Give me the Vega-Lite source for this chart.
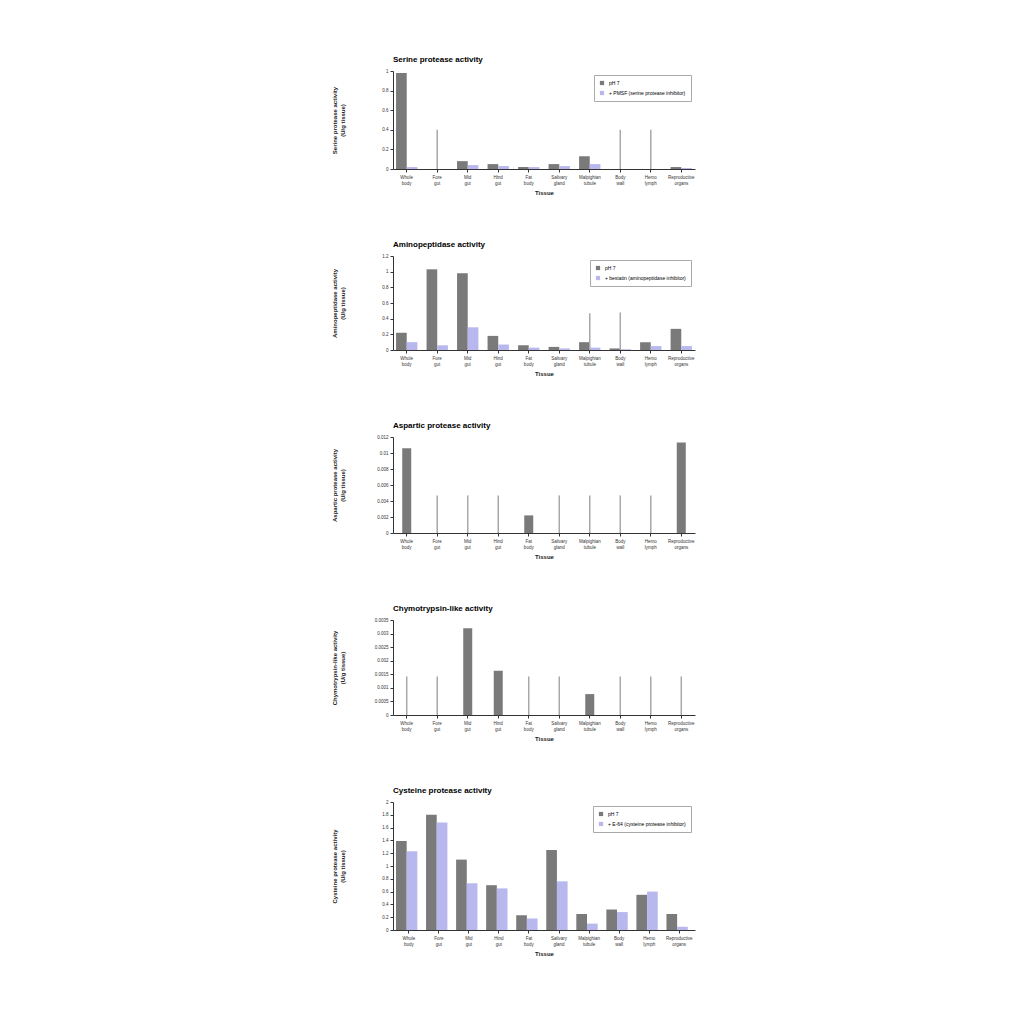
{
 "$schema": "https://vega.github.io/schema/vega-lite/v6.json",
 "background": "white",
 "padding": {"left": 331, "top": 56, "right": 5, "bottom": 5},
 "config": {
  "font": "Liberation Sans",
  "view": {"stroke": null},
  "axis": {"labelFontSize": 5, "titleFontSize": 6, "titleFontWeight": "bold", "domainColor": "#333", "tickColor": "#333", "grid": false, "labelColor": "#333", "titleColor": "#222", "tickSize": 3, "labelOverlap": false},
  "axisY": {"minExtent": 30, "maxExtent": 30, "titlePadding": 18, "labelFontSize": 4.5, "labelOverlap": false},
  "title": {"fontSize": 8, "anchor": "start", "frame": "group", "fontWeight": "bold", "offset": 4},
  "legend": {"orient": "top-right", "title": null, "labelFontSize": 5, "symbolType": "square", "symbolSize": 18, "strokeColor": "#aaa", "padding": 5, "offset": 4, "labelLimit": 200, "rowPadding": 4}
 },
 "resolve": {"scale": {"color": "independent"}, "legend": {"color": "independent"}},
 "spacing": 46,
 "datasets": {
  "serine": [
   {"tissue": "Whole body", "series": "Control", "value": 0.98},
   {"tissue": "Whole body", "series": "Inhibitor", "value": 0.02},
   {"tissue": "Fore gut", "series": "Control", "value": 0.0},
   {"tissue": "Fore gut", "series": "Inhibitor", "value": 0.0},
   {"tissue": "Fore gut", "series": "nd", "value": 0.4},
   {"tissue": "Mid gut", "series": "Control", "value": 0.08},
   {"tissue": "Mid gut", "series": "Inhibitor", "value": 0.04},
   {"tissue": "Hind gut", "series": "Control", "value": 0.05},
   {"tissue": "Hind gut", "series": "Inhibitor", "value": 0.03},
   {"tissue": "Fat body", "series": "Control", "value": 0.02},
   {"tissue": "Fat body", "series": "Inhibitor", "value": 0.02},
   {"tissue": "Salivary gland", "series": "Control", "value": 0.05},
   {"tissue": "Salivary gland", "series": "Inhibitor", "value": 0.03},
   {"tissue": "Malpighian tubule", "series": "Control", "value": 0.13},
   {"tissue": "Malpighian tubule", "series": "Inhibitor", "value": 0.05},
   {"tissue": "Body wall", "series": "Control", "value": 0.0},
   {"tissue": "Body wall", "series": "Inhibitor", "value": 0.0},
   {"tissue": "Body wall", "series": "nd", "value": 0.4},
   {"tissue": "Hemo lymph", "series": "Control", "value": 0.0},
   {"tissue": "Hemo lymph", "series": "Inhibitor", "value": 0.0},
   {"tissue": "Hemo lymph", "series": "nd", "value": 0.4},
   {"tissue": "Reproductive organs", "series": "Control", "value": 0.02},
   {"tissue": "Reproductive organs", "series": "Inhibitor", "value": 0.01}
  ],
  "amino": [
   {"tissue": "Whole body", "series": "Control", "value": 0.22},
   {"tissue": "Whole body", "series": "Inhibitor", "value": 0.1},
   {"tissue": "Fore gut", "series": "Control", "value": 1.03},
   {"tissue": "Fore gut", "series": "Inhibitor", "value": 0.06},
   {"tissue": "Mid gut", "series": "Control", "value": 0.98},
   {"tissue": "Mid gut", "series": "Inhibitor", "value": 0.29},
   {"tissue": "Hind gut", "series": "Control", "value": 0.18},
   {"tissue": "Hind gut", "series": "Inhibitor", "value": 0.07},
   {"tissue": "Fat body", "series": "Control", "value": 0.06},
   {"tissue": "Fat body", "series": "Inhibitor", "value": 0.03},
   {"tissue": "Salivary gland", "series": "Control", "value": 0.04},
   {"tissue": "Salivary gland", "series": "Inhibitor", "value": 0.02},
   {"tissue": "Malpighian tubule", "series": "Control", "value": 0.1},
   {"tissue": "Malpighian tubule", "series": "Inhibitor", "value": 0.03},
   {"tissue": "Malpighian tubule", "series": "nd", "value": 0.47},
   {"tissue": "Body wall", "series": "Control", "value": 0.02},
   {"tissue": "Body wall", "series": "Inhibitor", "value": 0.01},
   {"tissue": "Body wall", "series": "nd", "value": 0.48},
   {"tissue": "Hemo lymph", "series": "Control", "value": 0.1},
   {"tissue": "Hemo lymph", "series": "Inhibitor", "value": 0.05},
   {"tissue": "Reproductive organs", "series": "Control", "value": 0.27},
   {"tissue": "Reproductive organs", "series": "Inhibitor", "value": 0.05}
  ],
  "aspartic": [
   {"tissue": "Whole body", "series": "Control", "value": 0.0106},
   {"tissue": "Fore gut", "series": "nd", "value": 0.0047},
   {"tissue": "Mid gut", "series": "nd", "value": 0.0047},
   {"tissue": "Hind gut", "series": "nd", "value": 0.0047},
   {"tissue": "Fat body", "series": "Control", "value": 0.0022},
   {"tissue": "Salivary gland", "series": "nd", "value": 0.0047},
   {"tissue": "Malpighian tubule", "series": "nd", "value": 0.0047},
   {"tissue": "Body wall", "series": "nd", "value": 0.0047},
   {"tissue": "Hemo lymph", "series": "nd", "value": 0.0047},
   {"tissue": "Reproductive organs", "series": "Control", "value": 0.0113}
  ],
  "chymo": [
   {"tissue": "Whole body", "series": "nd", "value": 0.00142},
   {"tissue": "Fore gut", "series": "nd", "value": 0.00142},
   {"tissue": "Mid gut", "series": "Control", "value": 0.0032},
   {"tissue": "Hind gut", "series": "Control", "value": 0.00163},
   {"tissue": "Fat body", "series": "nd", "value": 0.00142},
   {"tissue": "Salivary gland", "series": "nd", "value": 0.00142},
   {"tissue": "Malpighian tubule", "series": "Control", "value": 0.00077},
   {"tissue": "Body wall", "series": "nd", "value": 0.00142},
   {"tissue": "Hemo lymph", "series": "nd", "value": 0.00142},
   {"tissue": "Reproductive organs", "series": "nd", "value": 0.00142}
  ],
  "cysteine": [
   {"tissue": "Whole body", "series": "Control", "value": 1.39},
   {"tissue": "Whole body", "series": "Inhibitor", "value": 1.23},
   {"tissue": "Fore gut", "series": "Control", "value": 1.8},
   {"tissue": "Fore gut", "series": "Inhibitor", "value": 1.68},
   {"tissue": "Mid gut", "series": "Control", "value": 1.1},
   {"tissue": "Mid gut", "series": "Inhibitor", "value": 0.73},
   {"tissue": "Hind gut", "series": "Control", "value": 0.7},
   {"tissue": "Hind gut", "series": "Inhibitor", "value": 0.65},
   {"tissue": "Fat body", "series": "Control", "value": 0.23},
   {"tissue": "Fat body", "series": "Inhibitor", "value": 0.18},
   {"tissue": "Salivary gland", "series": "Control", "value": 1.25},
   {"tissue": "Salivary gland", "series": "Inhibitor", "value": 0.76},
   {"tissue": "Malpighian tubule", "series": "Control", "value": 0.25},
   {"tissue": "Malpighian tubule", "series": "Inhibitor", "value": 0.1},
   {"tissue": "Body wall", "series": "Control", "value": 0.32},
   {"tissue": "Body wall", "series": "Inhibitor", "value": 0.28},
   {"tissue": "Hemo lymph", "series": "Control", "value": 0.55},
   {"tissue": "Hemo lymph", "series": "Inhibitor", "value": 0.6},
   {"tissue": "Reproductive organs", "series": "Control", "value": 0.25},
   {"tissue": "Reproductive organs", "series": "Inhibitor", "value": 0.05}
  ]
 },
 "vconcat": [
  {
   "title": "Serine protease activity",
   "width": 302, "height": 98,
   "data": {"name": "serine"},
   "encoding": {
    "x": {"field": "tissue", "type": "nominal", "title": "Tissue", "scale": {"domain": ["Whole body", "Fore gut", "Mid gut", "Hind gut", "Fat body", "Salivary gland", "Malpighian tubule", "Body wall", "Hemo lymph", "Reproductive organs"], "paddingInner": 0.3, "paddingOuter": 0.1}, "axis": {"labelAngle": 0, "labelFontSize": 4.5, "labelExpr": "split(datum.label, ' ')", "titlePadding": 4}},
    "y": {"field": "value", "type": "quantitative", "scale": {"domain": [0, 1]}, "axis": {"values": [0, 0.2, 0.4, 0.6, 0.8, 1], "labelOverlap": false, "format": "~g", "title": ["Serine protease activity", "(U/g tissue)"]}}
   },
   "layer": [
    {
     "transform": [{"filter": "datum.series != 'nd'"}],
     "mark": {"type": "bar"},
     "encoding": {
      "xOffset": {"field": "series", "type": "nominal", "scale": {"domain": ["Control", "Inhibitor"]}},
      "color": {"field": "series", "type": "nominal", "scale": {"domain": ["Control", "Inhibitor"], "range": ["#7a7a7a", "#b8b8ee"]}, "legend": {"labelExpr": "datum.label == 'Control' ? 'pH 7' : '+ PMSF (serine protease inhibitor)'"}}
     }
    },
    {
     "transform": [{"filter": "datum.series == 'nd'"}],
     "mark": {"type": "bar", "width": 1.5, "color": "#a8a8a8"},
     "encoding": {}
    }
   ]
  },
  {
   "title": "Aminopeptidase activity",
   "width": 302, "height": 94,
   "data": {"name": "amino"},
   "encoding": {
    "x": {"field": "tissue", "type": "nominal", "title": "Tissue", "scale": {"domain": ["Whole body", "Fore gut", "Mid gut", "Hind gut", "Fat body", "Salivary gland", "Malpighian tubule", "Body wall", "Hemo lymph", "Reproductive organs"], "paddingInner": 0.3, "paddingOuter": 0.1}, "axis": {"labelAngle": 0, "labelFontSize": 4.5, "labelExpr": "split(datum.label, ' ')", "titlePadding": 4}},
    "y": {"field": "value", "type": "quantitative", "scale": {"domain": [0, 1.2]}, "axis": {"values": [0, 0.2, 0.4, 0.6, 0.8, 1, 1.2], "labelOverlap": false, "format": "~g", "title": ["Aminopeptidase activity", "(U/g tissue)"]}}
   },
   "layer": [
    {
     "transform": [{"filter": "datum.series != 'nd'"}],
     "mark": {"type": "bar"},
     "encoding": {
      "xOffset": {"field": "series", "type": "nominal", "scale": {"domain": ["Control", "Inhibitor"]}},
      "color": {"field": "series", "type": "nominal", "scale": {"domain": ["Control", "Inhibitor"], "range": ["#7a7a7a", "#b8b8ee"]}, "legend": {"labelExpr": "datum.label == 'Control' ? 'pH 7' : '+ bestatin (aminopeptidase inhibitor)'"}}
     }
    },
    {
     "transform": [{"filter": "datum.series == 'nd'"}],
     "mark": {"type": "bar", "width": 1.5, "color": "#a8a8a8"},
     "encoding": {}
    }
   ]
  },
  {
   "title": "Aspartic protease activity",
   "width": 302, "height": 96,
   "data": {"name": "aspartic"},
   "encoding": {
    "x": {"field": "tissue", "type": "nominal", "title": "Tissue", "scale": {"domain": ["Whole body", "Fore gut", "Mid gut", "Hind gut", "Fat body", "Salivary gland", "Malpighian tubule", "Body wall", "Hemo lymph", "Reproductive organs"], "paddingInner": 0.3, "paddingOuter": 0.1}, "axis": {"labelAngle": 0, "labelFontSize": 4.5, "labelExpr": "split(datum.label, ' ')", "titlePadding": 4}},
    "y": {"field": "value", "type": "quantitative", "scale": {"domain": [0, 0.012]}, "axis": {"values": [0, 0.002, 0.004, 0.006, 0.008, 0.01, 0.012], "labelOverlap": false, "format": "~g", "title": ["Aspartic protease activity", "(U/g tissue)"]}}
   },
   "layer": [
    {
     "transform": [{"filter": "datum.series != 'nd'"}],
     "mark": {"type": "bar", "width": 9, "color": "#7a7a7a"},
     "encoding": {}
    },
    {
     "transform": [{"filter": "datum.series == 'nd'"}],
     "mark": {"type": "bar", "width": 1.5, "color": "#a8a8a8"},
     "encoding": {}
    }
   ]
  },
  {
   "title": "Chymotrypsin-like activity",
   "width": 302, "height": 95,
   "data": {"name": "chymo"},
   "encoding": {
    "x": {"field": "tissue", "type": "nominal", "title": "Tissue", "scale": {"domain": ["Whole body", "Fore gut", "Mid gut", "Hind gut", "Fat body", "Salivary gland", "Malpighian tubule", "Body wall", "Hemo lymph", "Reproductive organs"], "paddingInner": 0.3, "paddingOuter": 0.1}, "axis": {"labelAngle": 0, "labelFontSize": 4.5, "labelExpr": "split(datum.label, ' ')", "titlePadding": 4}},
    "y": {"field": "value", "type": "quantitative", "scale": {"domain": [0, 0.0035]}, "axis": {"values": [0, 0.0005, 0.001, 0.0015, 0.002, 0.0025, 0.003, 0.0035], "labelOverlap": false, "format": "~g", "title": ["Chymotrypsin-like activity", "(U/g tissue)"]}}
   },
   "layer": [
    {
     "transform": [{"filter": "datum.series != 'nd'"}],
     "mark": {"type": "bar", "width": 9, "color": "#7a7a7a"},
     "encoding": {}
    },
    {
     "transform": [{"filter": "datum.series == 'nd'"}],
     "mark": {"type": "bar", "width": 1.5, "color": "#a8a8a8"},
     "encoding": {}
    }
   ]
  },
  {
   "title": "Cysteine protease activity",
   "width": 302, "height": 128,
   "data": {"name": "cysteine"},
   "mark": {"type": "bar"},
   "encoding": {
    "x": {"field": "tissue", "type": "nominal", "title": "Tissue", "scale": {"domain": ["Whole body", "Fore gut", "Mid gut", "Hind gut", "Fat body", "Salivary gland", "Malpighian tubule", "Body wall", "Hemo lymph", "Reproductive organs"], "paddingInner": 0.15, "paddingOuter": 0.1}, "axis": {"labelAngle": 0, "labelFontSize": 4.5, "labelExpr": "split(datum.label, ' ')", "titlePadding": 4}},
    "xOffset": {"field": "series", "type": "nominal", "scale": {"domain": ["Control", "Inhibitor"]}},
    "y": {"field": "value", "type": "quantitative", "scale": {"domain": [0, 2]}, "axis": {"values": [0, 0.2, 0.4, 0.6, 0.8, 1, 1.2, 1.4, 1.6, 1.8, 2], "labelOverlap": false, "format": "~g", "title": ["Cysteine protease activity", "(U/g tissue)"]}},
    "color": {"field": "series", "type": "nominal", "scale": {"domain": ["Control", "Inhibitor"], "range": ["#7a7a7a", "#b8b8ee"]}, "legend": {"labelExpr": "datum.label == 'Control' ? 'pH 7' : '+ E-64 (cysteine protease inhibitor)'"}}
   }
  }
 ]
}
